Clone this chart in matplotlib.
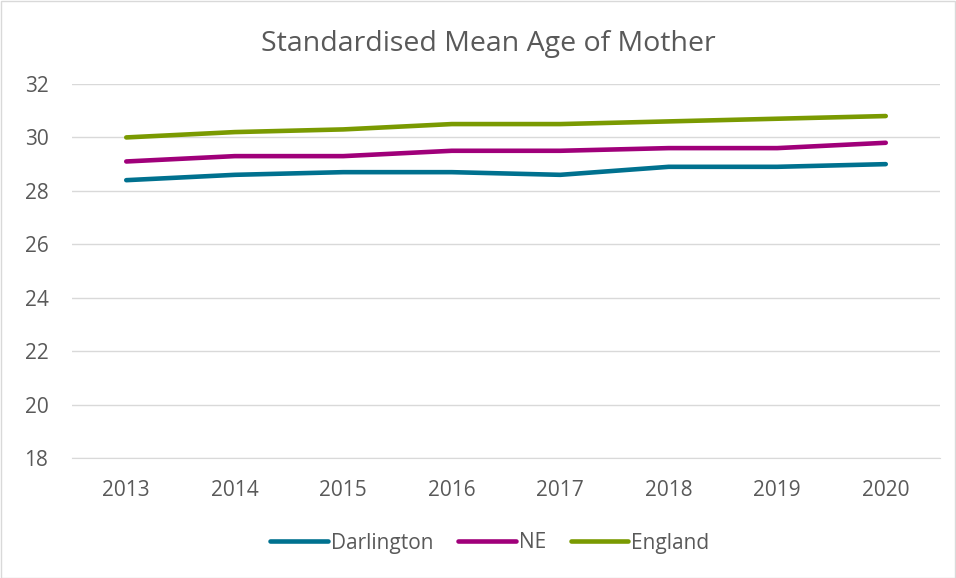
import matplotlib.pyplot as plt
from matplotlib.patches import Rectangle

years = ["2013", "2014", "2015", "2016", "2017", "2018", "2019", "2020"]
darlington = [28.4, 28.6, 28.7, 28.7, 28.6, 28.9, 28.9, 29.0]
ne = [29.1, 29.3, 29.3, 29.5, 29.5, 29.6, 29.6, 29.8]
england = [30.0, 30.2, 30.3, 30.5, 30.5, 30.6, 30.7, 30.8]

plt.rcParams['font.family'] = ['Open Sans', 'DejaVu Sans']

W, H = 956, 578
fig = plt.figure(figsize=(W / 100, H / 100), dpi=100)
ax = fig.add_axes([72 / W, 1 - 458 / H, (940 - 72) / W, (458 - 84) / H])

x = list(range(len(years)))
lw = 3.3
ax.plot(x, darlington, color='#00718F', lw=lw, solid_capstyle='round', label='Darlington')
ax.plot(x, ne, color='#A0007A', lw=lw, solid_capstyle='round', label='NE')
ax.plot(x, england, color='#7A9A01', lw=lw, solid_capstyle='round', label='England')

ax.set_xlim(-0.5, 7.5)
ax.set_ylim(18, 32)
ax.set_yticks(range(18, 33, 2))
ax.set_xticks(x)
ax.set_xticklabels(years)
ax.grid(axis='y', color='#D9D9D9', lw=1)
ax.set_axisbelow(True)
for s in ['top', 'right', 'left']:
    ax.spines[s].set_visible(False)
ax.spines['bottom'].set_color('#D9D9D9')
ax.tick_params(axis='both', length=0, labelsize=15, colors='#595959')
ax.tick_params(axis='y', pad=17)
ax.tick_params(axis='x', pad=16)

fig.text(488 / W, 1 - 44 / H, 'Standardised Mean Age of Mother', ha='center', va='center',
         fontsize=20.5, color='#595959')

leg = fig.legend(loc='center', bbox_to_anchor=(490 / W, 1 - 543 / H), ncol=3, frameon=False,
                 fontsize=15, handlelength=2.75, handletextpad=0.15, columnspacing=1.2)
for t in leg.get_texts():
    t.set_color('#595959')

fig.patches.append(Rectangle((0.5 / W, 0.5 / H), 1 - 1.5 / W, 1 - 1.5 / H, transform=fig.transFigure,
                             fill=False, edgecolor='#D9D9D9', lw=1))

fig.savefig('out.png', dpi=100)
